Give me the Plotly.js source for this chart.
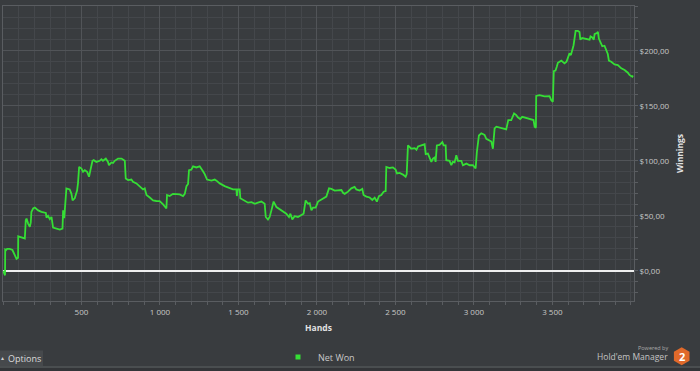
<!DOCTYPE html>
<html><head><meta charset="utf-8">
<script src="https://cdn.plot.ly/plotly-3.0.1.min.js"></script>
<style>html,body{margin:0;padding:0;background:#393c3f;}#chart{width:700px;height:371px;}</style>
</head><body><div id="chart"></div>
<script>
// ---- data ----
const seriesName = 'Net Won';
const hands = [
  1,10,13,14,20,26,43,60,75,86,
  96,97,107,128,139,145,150,160,171,177,
  181,192,203,224,245,273,277,287,298,309,
  315,319,341,362,379,383,390,394,404,425,
  436,443,457,472,478,485,500,510,521,536,
  548,557,570,578,595,616,627,637,655,669,
  675,691,701,712,733,755,765,776,782,797,
  818,828,850,871,892,903,914,935,956,977,
  998,1020,1041,1045,1062,1083,1105,1126,1147,1158,
  1169,1179,1185,1200,1211,1232,1253,1264,1274,1285,
  1300,1328,1349,1360,1381,1412,1444,1465,1487,1490,
  1495,1508,1512,1540,1561,1583,1604,1624,1646,1667,
  1674,1688,1699,1710,1724,1742,1763,1784,1805,1822,
  1831,1843,1858,1879,1901,1915,1928,1943,1954,1965,
  1975,1992,2007,2028,2049,2060,2077,2092,2113,2134,
  2156,2166,2177,2198,2219,2240,2251,2272,2289,2297,
  2315,2336,2353,2368,2382,2395,2410,2425,2438,2442,
  2463,2484,2501,2510,2527,2548,2565,2572,2580,2601,
  2623,2634,2644,2665,2686,2693,2707,2729,2739,2750,
  2756,2764,2781,2799,2807,2820,2824,2845,2856,2866,
  2877,2888,2898,2920,2930,2952,2973,2994,3011,3019,
  3032,3047,3068,3079,3100,3111,3121,3132,3143,3164,
  3185,3206,3219,3238,3256,3270,3280,3295,3308,3334,
  3365,3380,3387,3395,3397,3418,3450,3475,3482,3493,
  3503,3509,3520,3528,3535,3557,3577,3590,3609,3618,
  3627,3635,3648,3662,3673,3678,3690,3705,3720,3737,
  3743,3754,3764,3769,3783,3790,3796,3805,3818,3832,
  3843,3853,3860,3875,3896,3917,3939,3960,3981,3991,
  4009,4013
];
const netWon = [
  0,-3,-4,19.5,19,20,20,19,14,11,
  12,31.5,31,30,29.5,46,47.6,43,40,44,
  53.6,56.7,57.6,55,53.6,52.7,48.5,50,47,49,
  45,39.4,38.5,37.6,38.5,55,48,55,75,74,
  70,64,66,73,80,94.5,93,90,91.5,90,
  85.5,91.5,100,100.6,99,100,101.5,100,102,99,
  96,98.5,98,100,102,102,100.6,100,84,82.5,
  83,81,79.5,77,74,75,69,66.7,64,63.5,
  63.4,60.4,56.7,69,68,70,70,69.5,68,70,
  77,79,91.5,92,95,94,95,92,90.6,88,
  83,82,83,82,79.5,77,75,74,74,68,
  74,74,66,64,62,62.5,61,62,63,61,
  49,46.7,49,55,63,58,56,54.5,52,49,
  52,46.7,49.7,49,50.6,52,64,61,61.5,55,
  57.5,57.5,63,64.5,66,67.5,75,74.5,73,73,
  73.5,71,70,72,75,76.4,74,73,74.5,69,
  67.5,66.7,64.5,66.5,63,68,69,72,72.5,94.5,
  93.5,94,92,88.5,89,87.5,85.5,88,114,111,
  111.5,110,113,114,115,106,106.5,99,102,103,
  99,114,114.5,117,114,114,100.6,100,96,99,
  98.5,105,100,100,96,97.5,96,96,93,108,
  123,125,123.5,120,118.5,117.5,111,129.5,131,130,
  129.5,128.5,137,137,143,141.5,139.5,138,140,139,
  137.6,137,131,130,159,159.7,158.5,159,158.8,155,
  153.6,181.5,182,185.5,189,191,188.5,190,197.6,196,
  200,205,218,218,217,210,211.5,211,211,210,
  213,212,210,215,216,217,211,208,204,204.5,
  201,197,191,190,187.6,187,184,182.5,180,178,
  176.4,177.5
];
const xTicks = [500,1000,1500,2000,2500,3000,3500];
const yTicks = [0,50,100,150,200];
const yTickText = ['$0,00','$50,00','$100,00','$150,00','$200,00'];
const xTitle = 'Hands';
const yTitle = 'Winnings';

// ---- geometry / style ----
const W=700,H=371,ML=3,MR=66,MT=6,MB=70;
const PW=W-ML-MR, PH=H-MT-MB;
const px = p => (p-ML)/PW;
const py = p => (H-MB-p)/PH;
const BG='#393c3f', GRID='#44474b', GRIDMAJ='#515458', BORDER='#5a5d61', TXT='#c8c8c8', GREEN='#35de35';
const FONT='"Open Sans", "Noto Sans", sans-serif';

const traces = [
  {x:hands, y:netWon, type:'scatter', mode:'lines', name:seriesName, showlegend:false,
   line:{color:GREEN, width:1.8}, hoverinfo:'skip'},
  {x:[null], y:[null], type:'scatter', mode:'markers', name:seriesName, showlegend:true,
   marker:{symbol:'square', size:5, color:GREEN}}
];

// hexagon logo path (decoration)
const cx=681.7, cy=356.3, r=9;
let hex='';
for(let i=0;i<6;i++){
  const a=Math.PI/180*(60*i-90);
  hex += (i?'L':'M') + px(cx+r*Math.cos(a)).toFixed(5) + ',' + py(cy+r*Math.sin(a)).toFixed(5) + ' ';
}
hex+='Z';

const ann = (x,y,text,size,color,xanchor) => ({xref:'paper', yref:'paper', x:px(x), y:py(y), text:text,
  showarrow:false, xanchor:xanchor||'center', yanchor:'middle', font:{family:FONT, size:size, color:color}});

const layout = {
  width:W, height:H,
  margin:{l:ML, r:MR, t:MT, b:MB, pad:0, autoexpand:false},
  paper_bgcolor:BG, plot_bgcolor:BG,
  separators:', ',
  font:{family:FONT, size:8, color:TXT},
  showlegend:true,
  xaxis:{
    automargin:false,
    range:[0,4020], tickvals:xTicks, tickformat:',d',
    showgrid:true, gridcolor:GRIDMAJ, gridwidth:1,
    zeroline:false, showline:true, linecolor:BORDER, linewidth:1, mirror:true,
    ticks:'outside', ticklen:3, tickcolor:BORDER,
    minor:{dtick:100, tick0:0, showgrid:true, gridcolor:GRID, ticks:'outside', ticklen:3, tickcolor:BORDER},
    tickfont:{family:FONT, size:8, color:TXT},
    title:{text:'<b>'+xTitle+'</b>', font:{family:FONT, size:8.5, color:'#e2e2e2'}, standoff:9},
    fixedrange:true
  },
  yaxis:{
    automargin:false,
    side:'right', range:[-27.3,240.6], tickvals:yTicks, ticktext:yTickText,
    showgrid:true, gridcolor:GRIDMAJ, gridwidth:1,
    zeroline:true, zerolinecolor:'#eeeeee', zerolinewidth:2,
    showline:true, linecolor:BORDER, linewidth:1, mirror:true,
    ticks:'outside', ticklen:3, tickcolor:BORDER,
    minor:{dtick:10, tick0:0, showgrid:true, gridcolor:GRID, ticks:'outside', ticklen:3, tickcolor:BORDER},
    tickfont:{family:FONT, size:8, color:TXT},
    title:{text:'<b>'+yTitle+'</b>', font:{family:FONT, size:8.5, color:'#e2e2e2'}, standoff:8},
    fixedrange:true
  },
  legend:{orientation:'h', x:px(278), xanchor:'left', y:py(357), yanchor:'middle',
    font:{family:FONT, size:9, color:TXT}, bgcolor:'rgba(0,0,0,0)'},
  shapes:[
    {type:'rect', xref:'paper', yref:'paper', x0:px(0), x1:px(43), y0:py(366), y1:py(350.5),
     fillcolor:'#46494c', line:{width:0}, layer:'below'},
    {type:'line', xref:'paper', yref:'paper', x0:px(0), x1:px(700), y0:py(367), y1:py(367),
     line:{color:'#5d6063', width:1}},
    {type:'rect', xref:'paper', yref:'paper', x0:px(0), x1:px(700), y0:py(368), y1:py(371),
     fillcolor:'#333538', line:{width:0}},
    {type:'path', xref:'paper', yref:'paper', path:hex, fillcolor:'#e0692a', line:{width:0}}
  ],
  annotations:[
    ann(2.5, 358, '▴', 6, '#cfcfcf'),
    ann(24.5, 358, 'Options', 9, '#dcdcdc'),
    ann(670, 348.3, 'Powered by', 5.5, '#a9a9a9', 'right'),
    ann(670, 356.5, "Hold'em Manager", 8.5, '#c4c4c4', 'right'),
    ann(cx, 356.6, '<b>2</b>', 11, '#ffffff')
  ]
};

Plotly.newPlot('chart', traces, layout, {displayModeBar:false, staticPlot:true});
</script>
</body></html>
